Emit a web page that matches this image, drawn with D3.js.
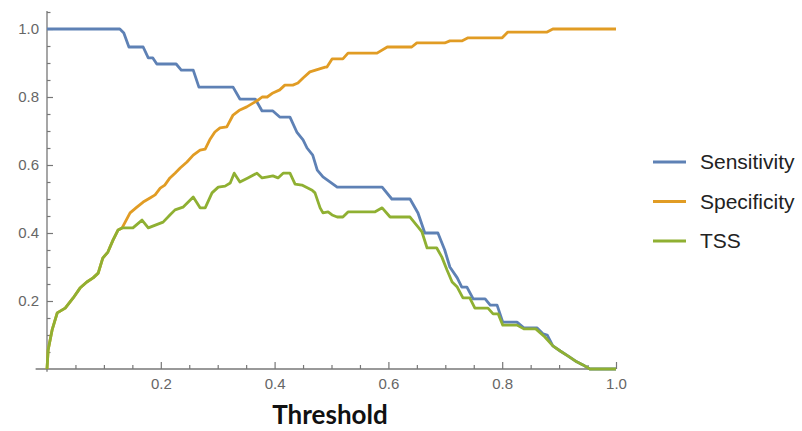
<!DOCTYPE html>
<html>
<head>
<meta charset="utf-8">
<script src="https://cdn.jsdelivr.net/npm/d3@7"></script>
<style>
  body { margin: 0; background: #fff; }
  svg { display: block; }
</style>
</head>
<body>
<div id="chart"></div>
<script>
// [threshold, value]
const sensitivity = [
  [0, 1], [0.128, 1], [0.135, 0.988], [0.144, 0.947], [0.169, 0.947], [0.178, 0.915],
  [0.186, 0.915], [0.193, 0.897], [0.227, 0.897], [0.236, 0.879], [0.257, 0.879],
  [0.267, 0.829], [0.327, 0.829], [0.339, 0.794], [0.366, 0.794], [0.378, 0.759],
  [0.397, 0.759], [0.409, 0.741], [0.427, 0.741], [0.439, 0.697], [0.450, 0.674],
  [0.457, 0.65], [0.467, 0.629], [0.475, 0.585], [0.485, 0.565], [0.510, 0.535],
  [0.589, 0.535], [0.606, 0.5], [0.638, 0.5], [0.652, 0.459], [0.664, 0.4],
  [0.687, 0.4], [0.699, 0.35], [0.708, 0.3], [0.721, 0.268], [0.729, 0.241],
  [0.738, 0.241], [0.749, 0.206], [0.770, 0.206], [0.779, 0.188], [0.791, 0.188],
  [0.801, 0.138], [0.826, 0.138], [0.838, 0.121], [0.861, 0.121], [0.872, 0.103],
  [0.879, 0.1], [0.889, 0.068], [0.902, 0.053], [0.916, 0.038], [0.931, 0.021],
  [0.942, 0.012], [0.954, 0], [1.0, 0]
];

const specificity = [
  [0, 0], [0.002, 0.056], [0.009, 0.115], [0.018, 0.165], [0.032, 0.179], [0.046, 0.209],
  [0.058, 0.238], [0.070, 0.256], [0.081, 0.268], [0.090, 0.282], [0.098, 0.326],
  [0.107, 0.344], [0.116, 0.379], [0.125, 0.409], [0.132, 0.415], [0.146, 0.459],
  [0.158, 0.476], [0.169, 0.491], [0.181, 0.503], [0.190, 0.512], [0.199, 0.532],
  [0.207, 0.541], [0.216, 0.562], [0.225, 0.576], [0.234, 0.591], [0.246, 0.609],
  [0.257, 0.629], [0.269, 0.644], [0.278, 0.647], [0.286, 0.674], [0.295, 0.697],
  [0.304, 0.709], [0.316, 0.712], [0.327, 0.747], [0.339, 0.762], [0.351, 0.771],
  [0.362, 0.782], [0.371, 0.791], [0.378, 0.8], [0.387, 0.8], [0.397, 0.812],
  [0.409, 0.821], [0.418, 0.835], [0.432, 0.835], [0.441, 0.841], [0.450, 0.856],
  [0.462, 0.874], [0.489, 0.888], [0.492, 0.888], [0.501, 0.912], [0.520, 0.912],
  [0.529, 0.929], [0.580, 0.929], [0.598, 0.947], [0.641, 0.947], [0.650, 0.959],
  [0.699, 0.959], [0.708, 0.965], [0.729, 0.965], [0.740, 0.974], [0.800, 0.974],
  [0.810, 0.991], [0.879, 0.991], [0.889, 1.0], [1.0, 1.0]
];

const tss = [
  [0, 0], [0.002, 0.056], [0.009, 0.115], [0.018, 0.165], [0.032, 0.179], [0.046, 0.209],
  [0.058, 0.238], [0.070, 0.256], [0.081, 0.268], [0.090, 0.282], [0.098, 0.326],
  [0.107, 0.344], [0.116, 0.379], [0.125, 0.409], [0.132, 0.415], [0.151, 0.415],
  [0.167, 0.438], [0.178, 0.415], [0.204, 0.432], [0.216, 0.453], [0.225, 0.468],
  [0.239, 0.476], [0.257, 0.506], [0.269, 0.474], [0.278, 0.474], [0.290, 0.518],
  [0.301, 0.535], [0.313, 0.538], [0.322, 0.547], [0.329, 0.576], [0.339, 0.55],
  [0.353, 0.562], [0.369, 0.576], [0.378, 0.562], [0.388, 0.565], [0.397, 0.568],
  [0.406, 0.562], [0.415, 0.576], [0.427, 0.576], [0.436, 0.544], [0.448, 0.541],
  [0.466, 0.526], [0.471, 0.518], [0.480, 0.474], [0.485, 0.459], [0.494, 0.462],
  [0.501, 0.453], [0.510, 0.447], [0.520, 0.447], [0.529, 0.462], [0.576, 0.462],
  [0.589, 0.474], [0.603, 0.447], [0.638, 0.447], [0.652, 0.418], [0.659, 0.403],
  [0.668, 0.356], [0.685, 0.356], [0.694, 0.329], [0.703, 0.291], [0.712, 0.256],
  [0.721, 0.241], [0.731, 0.209], [0.743, 0.209], [0.752, 0.179], [0.775, 0.179],
  [0.784, 0.162], [0.793, 0.162], [0.801, 0.129], [0.826, 0.129], [0.838, 0.118],
  [0.859, 0.118], [0.875, 0.094], [0.889, 0.068], [0.902, 0.053], [0.916, 0.038],
  [0.931, 0.021], [0.942, 0.012], [0.954, 0], [1.0, 0]
];

const seriesNames = ["Sensitivity", "Specificity", "TSS"];
const seriesColors = ["#5E81B5", "#E19C24", "#8FB032"];
const majorTicks = [0.2, 0.4, 0.6, 0.8, 1.0];
const minorTicksX = [0.05, 0.1, 0.15, 0.25, 0.3, 0.35, 0.45, 0.5, 0.55, 0.65, 0.7, 0.75, 0.85, 0.9, 0.95];
const minorTicksY = [0.05, 0.1, 0.15, 0.25, 0.3, 0.35, 0.45, 0.5, 0.55, 0.65, 0.7, 0.75, 0.85, 0.9, 0.95, 1.05];

const width = 802, height = 431;

const svg = d3.select("#chart")
    .append("svg")
    .attr("width", width)
    .attr("height", height);

const x = d3.scaleLinear().domain([0, 1]).range([47, 616]);
const y = d3.scaleLinear().domain([0, 1]).range([369, 29]);

const axisColor = "#777";
const labelColor = "#666";

// axis lines (x axis pokes a bit left, y axis runs past 1.0)
svg.append("line")
    .attr("x1", x(-0.02)).attr("x2", x(1.0))
    .attr("y1", y(0)).attr("y2", y(0))
    .attr("stroke", axisColor).attr("stroke-width", 1.3);
svg.append("line")
    .attr("x1", x(0)).attr("x2", x(0))
    .attr("y1", y(-0.008)).attr("y2", y(1.053))
    .attr("stroke", axisColor).attr("stroke-width", 1.3);

// x ticks point up, y ticks point right
const xMajor = svg.append("g")
    .attr("transform", `translate(0,${y(0)})`)
    .call(d3.axisBottom(x).tickValues(majorTicks).tickSizeInner(-7).tickSizeOuter(0)
        .tickPadding(9).tickFormat(d3.format(".1f")));
const xMinor = svg.append("g")
    .attr("transform", `translate(0,${y(0)})`)
    .call(d3.axisBottom(x).tickValues(minorTicksX).tickSizeInner(-4).tickSizeOuter(0).tickFormat(""));

const yMajor = svg.append("g")
    .attr("transform", `translate(${x(0)},0)`)
    .call(d3.axisLeft(y).tickValues(majorTicks).tickSizeInner(-6).tickSizeOuter(0)
        .tickPadding(8).tickFormat(d3.format(".1f")));
const yMinor = svg.append("g")
    .attr("transform", `translate(${x(0)},0)`)
    .call(d3.axisLeft(y).tickValues(minorTicksY).tickSizeInner(-3.5).tickSizeOuter(0).tickFormat(""));

[xMajor, xMinor, yMajor, yMinor].forEach(g => {
    g.select(".domain").remove();
    g.selectAll(".tick line").attr("stroke", axisColor).attr("stroke-width", 1.2);
    g.selectAll(".tick text")
        .attr("fill", labelColor)
        .style("font-family", "'Liberation Sans', Arial, sans-serif")
        .style("font-size", "15px");
});

// curves
const line = d3.line()
    .x(d => x(d[0]))
    .y(d => y(d[1]));

const allSeries = [sensitivity, specificity, tss];
svg.selectAll(".curve")
    .data(allSeries)
    .enter()
    .append("path")
    .attr("class", "curve")
    .attr("d", d => line(d))
    .attr("fill", "none")
    .attr("stroke", (d, i) => seriesColors[i])
    .attr("stroke-width", 2.8)
    .attr("stroke-linejoin", "round");

// x label
svg.append("text")
    .attr("x", 330)
    .attr("y", 424)
    .attr("text-anchor", "middle")
    .style("font-family", "Lato, 'Open Sans', sans-serif")
    .style("font-weight", "bold")
    .style("font-size", "26px")
    .style("fill", "#111")
    .text("Threshold");

// legend
const legendY = [162, 201.5, 241];
const legend = svg.selectAll(".legend")
    .data(seriesNames)
    .enter()
    .append("g")
    .attr("class", "legend")
    .attr("transform", (d, i) => `translate(653,${legendY[i]})`);

legend.append("line")
    .attr("x1", 0).attr("x2", 33)
    .attr("stroke", (d, i) => seriesColors[i])
    .attr("stroke-width", 2.8);

legend.append("text")
    .attr("x", 47)
    .attr("dy", "0.35em")
    .style("font-family", "'Liberation Sans', Arial, sans-serif")
    .style("font-size", "21px")
    .style("fill", "#222")
    .text(d => d);
</script>
</body>
</html>
